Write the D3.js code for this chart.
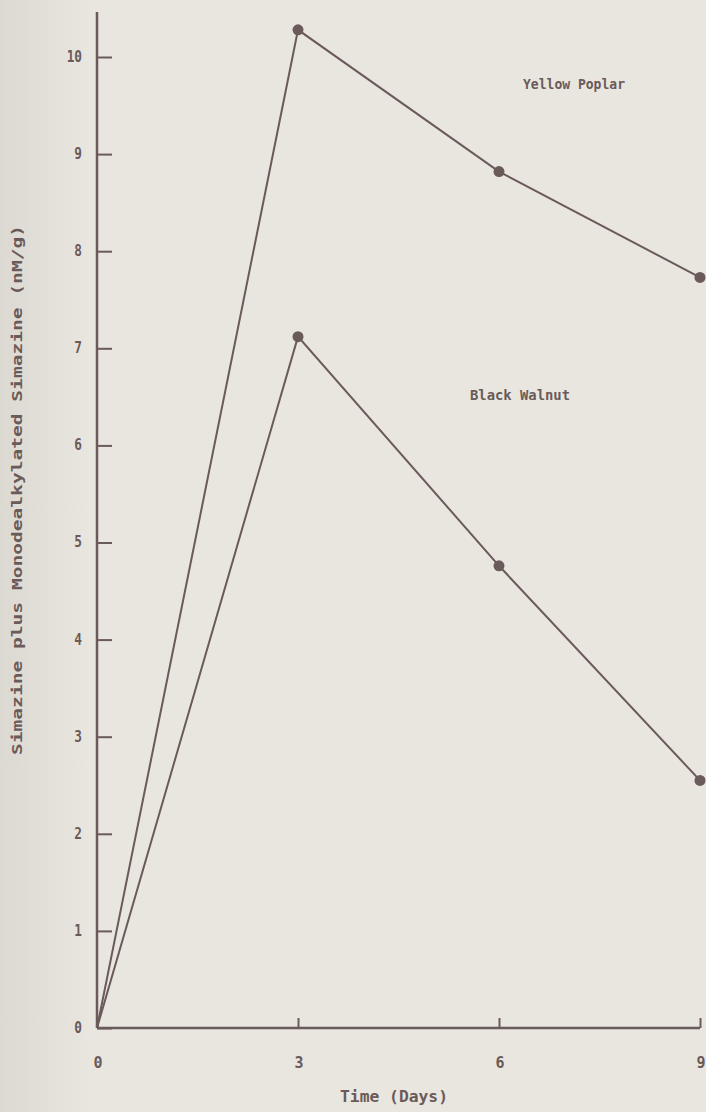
<!DOCTYPE html>
<html>
<head>
<meta charset="utf-8">
<script src="https://cdn.jsdelivr.net/npm/d3@7"></script>
<style>
  html, body { margin: 0; padding: 0; background: #e9e6e0; }
  svg { display: block; }
  text { font-family: "DejaVu Sans Mono", "Liberation Mono", monospace; font-weight: bold; fill: #6a5a58; }
</style>
</head>
<body>
<svg id="chart" width="706" height="1112"></svg>
<script>
// Sampling days and concentrations (nM/g) for each species
const days = [0, 3, 6, 9];
const yellowPoplar = [0, 10.28, 8.82, 7.73];
const blackWalnut = [0, 7.12, 4.76, 2.55];
const seriesNames = ["Yellow Poplar", "Black Walnut"];
const xTicks = [0, 3, 6, 9];
const yTicks = [0, 1, 2, 3, 4, 5, 6, 7, 8, 9, 10];

const ink = "#6a5a58";
const svg = d3.select("#chart");

// soft shading down the left edge of the sheet
const defs = svg.append("defs");
const grad = defs.append("linearGradient").attr("id", "edge").attr("x1", 0).attr("x2", 1);
grad.append("stop").attr("offset", 0).attr("stop-color", "#dcd9d2");
grad.append("stop").attr("offset", 1).attr("stop-color", "#e9e6e0");
svg.append("rect").attr("x", 0).attr("y", 0).attr("width", 90).attr("height", 1112).attr("fill", "url(#edge)");

const x = d3.scaleLinear().domain([0, 9]).range([97, 700]);
const y = d3.scaleLinear().domain([0, 10]).range([1028, 57]);

// y axis: ticks pointing inward
const yAxis = svg.append("g").attr("transform", `translate(${x(0)},0)`)
  .call(d3.axisRight(y).tickValues(yTicks).tickSize(15).tickFormat(""));
yAxis.select(".domain").remove();
yAxis.selectAll("line").attr("stroke", ink).attr("stroke-width", 2);
svg.append("line").attr("x1", x(0)).attr("x2", x(0)).attr("y1", 12).attr("y2", y(0))
  .attr("stroke", ink).attr("stroke-width", 2.5);
svg.append("g").selectAll("text").data(yTicks).join("text")
  .attr("x", 82).attr("y", d => y(d) + 5).attr("text-anchor", "end")
  .attr("font-size", 15).attr("transform", d => `translate(82,${y(d)}) scale(0.85,1) translate(-82,${-y(d)})`)
  .text(d => d);

// x axis: ticks pointing up
const xAxis = svg.append("g").attr("transform", `translate(0,${y(0)})`)
  .call(d3.axisTop(x).tickValues(xTicks).tickSize(10).tickFormat(""));
xAxis.select(".domain").remove();
xAxis.selectAll("line").attr("stroke", ink).attr("stroke-width", 2);
svg.append("line").attr("x1", x(0)).attr("x2", x(9)).attr("y1", y(0)).attr("y2", y(0))
  .attr("stroke", ink).attr("stroke-width", 2.5);
svg.append("g").selectAll("text").data(xTicks).join("text")
  .attr("x", d => x(d) + 1).attr("y", 1068).attr("text-anchor", "middle")
  .attr("font-size", 15).text(d => d);

// axis titles
svg.append("text").attr("x", 394).attr("y", 1102).attr("text-anchor", "middle")
  .attr("font-size", 15).attr("textLength", 108).attr("lengthAdjust", "spacingAndGlyphs")
  .text("Time (Days)");
svg.append("text").attr("transform", "translate(22,490) rotate(-90)").attr("text-anchor", "middle")
  .attr("font-size", 14).attr("textLength", 530).attr("lengthAdjust", "spacingAndGlyphs")
  .text("Simazine plus Monodealkylated Simazine (nM/g)");

// series lines and markers
const line = d3.line().x((d, i) => x(days[i])).y(d => y(d));
[yellowPoplar, blackWalnut].forEach(vals => {
  svg.append("path").datum(vals).attr("d", line)
    .attr("fill", "none").attr("stroke", ink).attr("stroke-width", 2);
  svg.append("g").selectAll("circle").data(vals.slice(1)).join("circle")
    .attr("cx", (d, i) => x(days[i + 1])).attr("cy", d => y(d)).attr("r", 5.5)
    .attr("fill", ink);
});

// series names
svg.append("text").attr("x", 523).attr("y", 89).attr("font-size", 14)
  .attr("textLength", 102).attr("lengthAdjust", "spacingAndGlyphs").text(seriesNames[0]);
svg.append("text").attr("x", 470).attr("y", 400).attr("font-size", 14)
  .attr("textLength", 100).attr("lengthAdjust", "spacingAndGlyphs").text(seriesNames[1]);
</script>
</body>
</html>
